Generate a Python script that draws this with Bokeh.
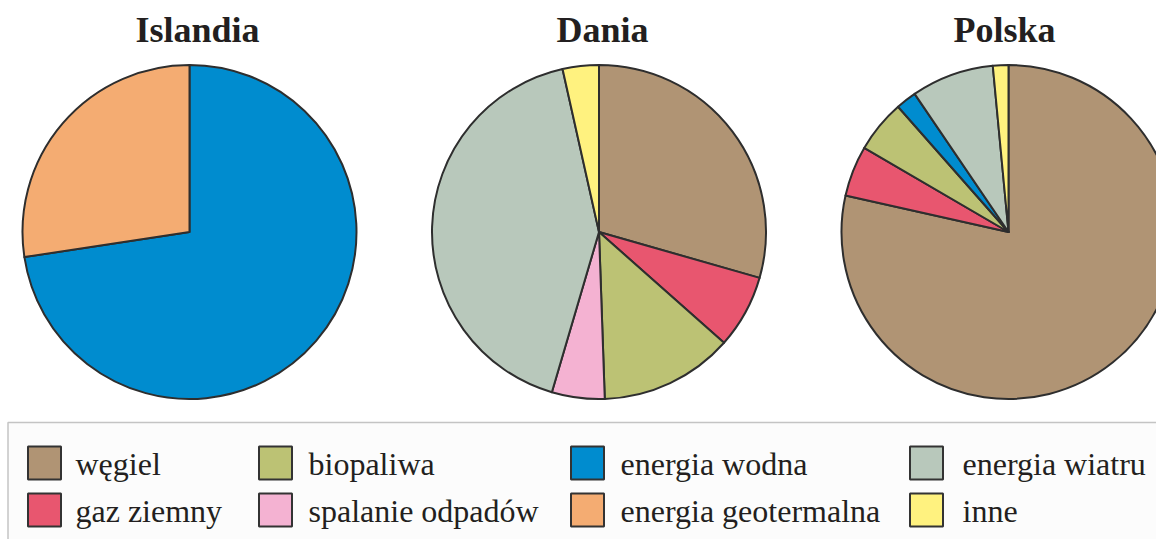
import math
from bokeh.plotting import figure
from bokeh.models import Range1d, ColumnDataSource
from bokeh.core.properties import value
from bokeh.embed import file_html
from bokeh.resources import INLINE

# ---- data ----
categories = ["węgiel", "gaz ziemny", "biopaliwa", "spalanie odpadów",
              "energia wodna", "energia geotermalna", "energia wiatru", "inne"]
colors = ["#b09474", "#e8566f", "#bcc274", "#f4b2d2",
          "#008ccf", "#f4ac72", "#b8c8bb", "#fff27f"]
countries = ["Islandia", "Dania", "Polska"]
islandia = [0, 0, 0, 0, 72.6, 27.4, 0, 0]
dania = [29.4, 7.1, 12.9, 5.1, 0, 0, 41.9, 3.5]
polska = [78.5, 4.9, 5.1, 0, 2.0, 0, 8.0, 1.5]
shares = [islandia, dania, polska]

# ---- layout (pixel positions, measured from the top-left of the picture) ----
W, H = 1156, 539
def dx(px): return px
def dy(py): return H - py

pie_cx = [189, 598.5, 1008]
pie_cy = 231.5
radius = 167
title_cx = [197, 602, 1004]
title_mid = 29

p = figure(width=W, height=H, x_range=Range1d(0, W), y_range=Range1d(0, H),
           output_backend="svg", toolbar_location=None, min_border=0,
           x_axis_type=None, y_axis_type=None)
p.grid.visible = False
p.outline_line_color = None
p.background_fill_color = "white"
p.border_fill_color = "white"

# ---- pies ----
for ci, vals in enumerate(shares):
    total = float(sum(vals))
    xs, ys, starts, ends, fills = [], [], [], [], []
    cum = 0.0
    for v, col in zip(vals, colors):
        if v <= 0:
            continue
        a0 = cum / total
        cum += v
        a1 = cum / total
        starts.append(math.pi / 2 - 2 * math.pi * a1)
        ends.append(math.pi / 2 - 2 * math.pi * a0)
        xs.append(dx(pie_cx[ci]))
        ys.append(dy(pie_cy))
        fills.append(col)
    src = ColumnDataSource(dict(x=xs, y=ys, s=starts, e=ends, c=fills))
    p.wedge(x="x", y="y", radius=radius, start_angle="s", end_angle="e",
            direction="anticlock", fill_color="c", line_color="#2e2e2e",
            line_width=2, line_join="round", source=src)

# ---- titles ----
p.text(x=[dx(v) for v in title_cx], y=[dy(title_mid)] * 3, text=countries,
       text_align="center", text_baseline="middle",
       text_font=value("Liberation Serif"), text_font_style="bold",
       text_font_size="36px", text_color="#231f20")

# ---- legend box ----
p.quad(left=[dx(7.5)], right=[W + 20], bottom=[-20], top=[dy(422)],
       fill_color="#fcfcfc", line_color="#c4c4c4", line_width=1.5)

sw_cx = [44, 275, 587, 926]
sw_cy = [462.5, 509.5]
tx = [75, 308, 620, 962]
tmid = [463, 510]
lx, ly, lc, tx_, ty_ = [], [], [], [], []
for i, (cat, col) in enumerate(zip(categories, colors)):
    c, r = i // 2, i % 2
    lx.append(dx(sw_cx[c])); ly.append(dy(sw_cy[r])); lc.append(col)
    tx_.append(dx(tx[c])); ty_.append(dy(tmid[r]))
p.rect(x=lx, y=ly, width=33, height=33, fill_color=lc,
       line_color="#333333", line_width=2)
p.text(x=tx_, y=ty_, text=categories, text_align="left",
       text_baseline="middle", text_font=value("Liberation Serif"),
       text_font_size="32px", text_color="#231f20")

open("out.html", "w").write(file_html(p, INLINE))
